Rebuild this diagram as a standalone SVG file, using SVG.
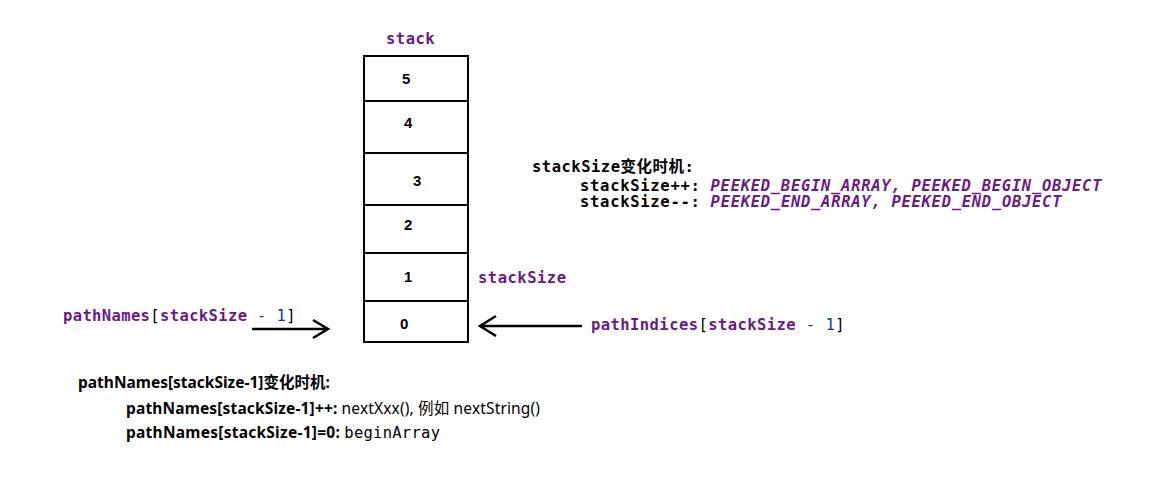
<svg xmlns="http://www.w3.org/2000/svg" width="1170" height="483" viewBox="0 0 1170 483">
<style>
.m{font-family:"DejaVu Sans Mono","Liberation Mono",monospace;font-size:15.5px;letter-spacing:0.5px}
.b{font-weight:bold}
.p{fill:#6a1b86}
.k{fill:#000}
.blue{fill:#1a2db0}
.it{font-style:italic;font-weight:bold;fill:#6a1b86}
.s{font-family:"Noto Sans","Noto Sans CJK SC",sans-serif;font-size:15.5px}
.cell{fill:#fff;stroke:#000;stroke-width:2}
.n{font-family:"Liberation Sans",sans-serif;font-size:15px;font-weight:bold}
.ln{stroke:#000;stroke-width:2.5;fill:none}
</style>
<rect width="1170" height="483" fill="#fff"/>
<text class="m b p" x="386" y="44">stack</text>
<g id="stack">
<rect class="cell" x="364" y="56" width="104" height="45"/>
<rect class="cell" x="364" y="101" width="104" height="52"/>
<rect class="cell" x="364" y="153" width="104" height="52"/>
<rect class="cell" x="364" y="205" width="104" height="48"/>
<rect class="cell" x="364" y="253" width="104" height="48"/>
<rect class="cell" x="364" y="301" width="104" height="41"/>
<text class="n" x="402" y="84">5</text>
<text class="n" x="404" y="128">4</text>
<text class="n" x="413" y="186">3</text>
<text class="n" x="404" y="230">2</text>
<text class="n" x="404" y="282">1</text>
<text class="n" x="400" y="329">0</text>
</g>
<text class="m b p" x="478" y="283">stackSize</text>
<g id="notes">
<text class="m b k" x="532" y="172">stackSize<tspan font-family="Noto Sans CJK SC,sans-serif">变化时机</tspan>:</text>
<text class="m b k" x="580" y="191" textLength="522">stackSize++: <tspan class="it">PEEKED_BEGIN_ARRAY, PEEKED_BEGIN_OBJECT</tspan></text>
<text class="m b k" x="580" y="207" textLength="482">stackSize--: <tspan class="it">PEEKED_END_ARRAY, PEEKED_END_OBJECT</tspan></text>
</g>
<g id="labels">
<text class="m p" x="63" y="321" textLength="233"><tspan class="b">pathNames</tspan><tspan class="k">[</tspan><tspan class="b">stackSize</tspan> - <tspan class="blue">1</tspan><tspan class="k">]</tspan></text>
<text class="m p" x="591" y="330" textLength="254"><tspan class="b">pathIndices</tspan><tspan class="k">[</tspan><tspan class="b">stackSize</tspan> - <tspan class="blue">1</tspan><tspan class="k">]</tspan></text>
</g>
<g id="connectors">
<path class="ln" d="M252 329 H328 M313 320 L328 329 L313 338"/>
<path class="ln" d="M582 326 H480 M496 316 L480 326 L496 336"/>
</g>
<g id="bottom" class="s">
<text x="78" y="388" font-weight="bold">pathNames[stackSize-1]变化时机:</text>
<text x="126" y="414" textLength="414"><tspan font-weight="bold">pathNames[stackSize-1]++:</tspan> nextXxx(), 例如 nextString()</text>
<text x="126" y="438" textLength="314"><tspan font-weight="bold">pathNames[stackSize-1]=0:</tspan>  <tspan font-family="DejaVu Sans Mono,monospace">beginArray</tspan></text>
</g>
</svg>
